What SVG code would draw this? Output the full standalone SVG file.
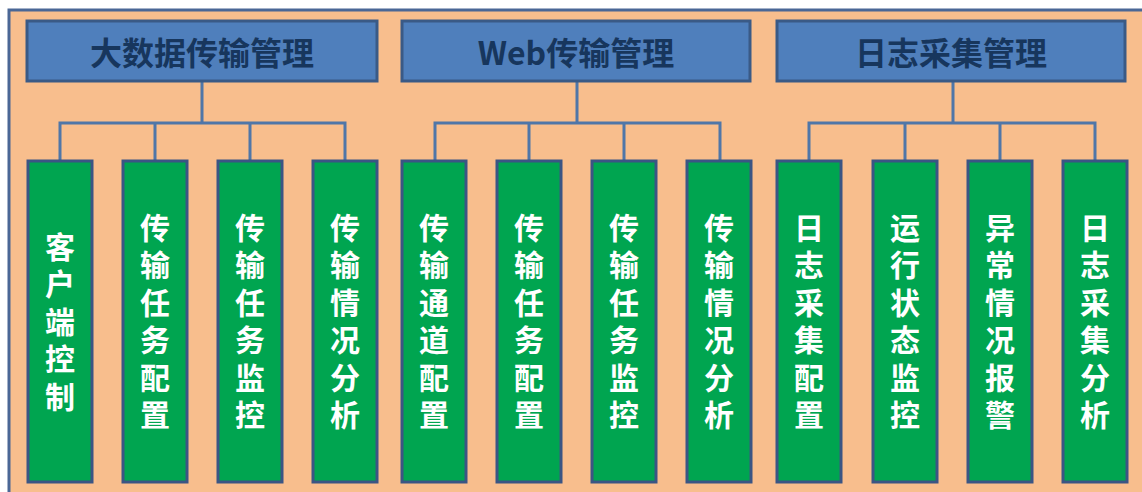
<svg xmlns="http://www.w3.org/2000/svg" width="1142" height="492" viewBox="0 0 1142 492">
<style>
.frame{fill:#f8be8d;stroke:#4a6796;stroke-width:3}
.hdr{fill:#4f7fbc;stroke:#3a5a86;stroke-width:3}
.leaf{fill:#00a550;stroke:#3b5584;stroke-width:3}
.ht{font-family:"Noto Sans CJK SC","Noto Sans",sans-serif;font-weight:bold;font-size:32px;fill:#17365d;text-anchor:middle;dominant-baseline:central}
.lt{font-family:"Noto Sans CJK SC","Noto Sans",sans-serif;font-weight:bold;font-size:30px;fill:#ffffff;text-anchor:middle;writing-mode:tb;letter-spacing:7.5px}
.con{fill:none;stroke:#4f76a8;stroke-width:3}
</style>
<rect class="frame" x="9" y="10" width="1150" height="500"/>
<g id="connectors">
<path class="con" d="M202 81V123M60 160V123H345V160M155 123V160M250 123V160"/>
<path class="con" d="M577 81V123M435 160V123H720V160M529 123V160M624 123V160"/>
<path class="con" d="M953 81V123M809 160V123H1095V160M905 123V160M1000 123V160"/>
</g>
<g id="h1"><rect class="hdr" x="27" y="21" width="350" height="60"/><text class="ht" x="202" y="51">大数据传输管理</text></g>
<g id="h2"><rect class="hdr" x="402" y="21" width="348" height="60"/><text class="ht" x="576" y="51">Web传输管理</text></g>
<g id="h3"><rect class="hdr" x="777" y="21" width="348" height="60"/><text class="ht" x="951" y="51">日志采集管理</text></g>

<g id="n1"><rect class="leaf" x="28" y="161" width="64" height="321"/><text class="lt" x="60" y="325">客户端控制</text></g>
<g id="n2"><rect class="leaf" x="123" y="161" width="64" height="321"/><text class="lt" x="155" y="325">传输任务配置</text></g>
<g id="n3"><rect class="leaf" x="218" y="161" width="64" height="321"/><text class="lt" x="250" y="325">传输任务监控</text></g>
<g id="n4"><rect class="leaf" x="313" y="161" width="64" height="321"/><text class="lt" x="345" y="325">传输情况分析</text></g>

<g id="n5"><rect class="leaf" x="402" y="161" width="64" height="321"/><text class="lt" x="434" y="325">传输通道配置</text></g>
<g id="n6"><rect class="leaf" x="497" y="161" width="64" height="321"/><text class="lt" x="529" y="325">传输任务配置</text></g>
<g id="n7"><rect class="leaf" x="592" y="161" width="64" height="321"/><text class="lt" x="624" y="325">传输任务监控</text></g>
<g id="n8"><rect class="leaf" x="687" y="161" width="64" height="321"/><text class="lt" x="719" y="325">传输情况分析</text></g>

<g id="n9"><rect class="leaf" x="777" y="161" width="64" height="321"/><text class="lt" x="809" y="325">日志采集配置</text></g>
<g id="n10"><rect class="leaf" x="873" y="161" width="64" height="321"/><text class="lt" x="905" y="325">运行状态监控</text></g>
<g id="n11"><rect class="leaf" x="968" y="161" width="64" height="321"/><text class="lt" x="1000" y="325">异常情况报警</text></g>
<g id="n12"><rect class="leaf" x="1063" y="161" width="64" height="321"/><text class="lt" x="1095" y="325">日志采集分析</text></g>
</svg>
